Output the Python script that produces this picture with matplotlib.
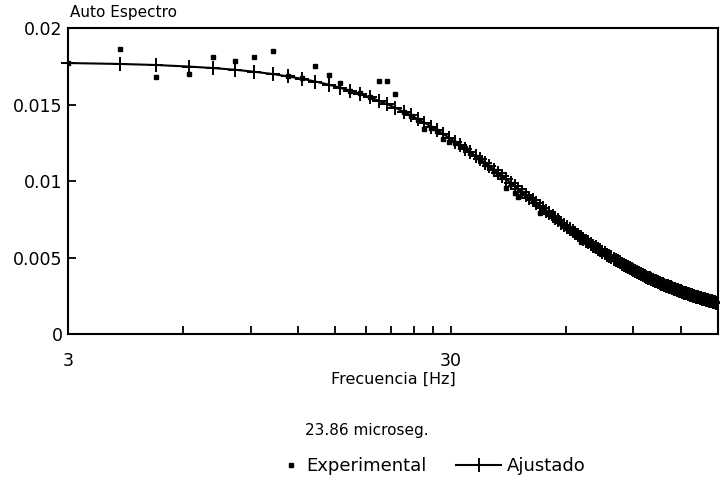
import matplotlib
matplotlib.use('Agg')
import matplotlib.pyplot as plt
from matplotlib.ticker import NullFormatter

plt.rcParams['font.family'] = ['DejaVu Sans']

# frecuencias (Hz)
freq = [3.0, 4.1, 5.1, 6.2, 7.2, 8.2, 9.2, 10.3, 11.3, 12.3, 13.3, 14.4, 15.4, 16.4, 17.4,
        18.5, 19.5, 20.5, 21.5, 22.6, 23.6, 24.6, 25.6, 26.7, 27.7, 28.7, 29.7, 30.8, 31.8,
        32.8, 33.8, 34.9, 35.9, 36.9, 37.9, 39.0, 40.0, 41.0, 42.0, 43.1, 44.1, 45.1, 46.1,
        47.2, 48.2, 49.2, 50.2, 51.3, 52.3, 53.3, 54.3, 55.4, 56.4, 57.4, 58.4, 59.5, 60.5,
        61.5, 62.5, 63.6, 64.6, 65.6, 66.6, 67.7, 68.7, 69.7, 70.7, 71.8, 72.8, 73.8, 74.8,
        75.9, 76.9, 77.9, 78.9, 80.0, 81.0, 82.0, 83.0, 84.1, 85.1, 86.1, 87.1, 88.2, 89.2,
        90.2, 91.2, 92.3, 93.3, 94.3, 95.3, 96.4, 97.4, 98.4, 99.4, 100.5, 101.5, 102.5,
        103.5, 104.6, 105.6, 106.6, 107.6, 108.7, 109.7, 110.7, 111.7, 112.8, 113.8, 114.8,
        115.8, 116.9, 117.9, 118.9, 119.9, 121.0, 122.0, 123.0, 124.0, 125.1, 126.1, 127.1,
        128.1, 129.2, 130.2, 131.2, 132.2, 133.3, 134.3, 135.3, 136.3, 137.4, 138.4, 139.4,
        140.4, 141.5, 142.5, 143.5, 144.5, 145.6, 146.6, 147.6, 148.6, 149.7]

# curva ajustada
ajustado = [0.01773, 0.01767, 0.01760, 0.01750, 0.01740, 0.01729, 0.01716, 0.01701, 0.01685,
            0.01669, 0.01652, 0.01632, 0.01612, 0.01592, 0.01571, 0.01548, 0.01526, 0.01503,
            0.01481, 0.01455, 0.01432, 0.01408, 0.01384, 0.01358, 0.01334, 0.01310, 0.01286,
            0.01260, 0.01237, 0.01213, 0.01190, 0.01165, 0.01143, 0.01120, 0.01098, 0.01075,
            0.01053, 0.01032, 0.01012, 0.00990, 0.00970, 0.00951, 0.00932, 0.00911, 0.00893,
            0.00875, 0.00858, 0.00839, 0.00823, 0.00807, 0.00791, 0.00774, 0.00759, 0.00744,
            0.00730, 0.00715, 0.00701,
            0.00688, 0.00674, 0.00661, 0.00649, 0.00637, 0.00625, 0.00613, 0.00602, 0.00591,
            0.00580, 0.00569, 0.00559, 0.00549, 0.00539, 0.00530, 0.00521, 0.00512, 0.00503,
            0.00494, 0.00486, 0.00478, 0.00470, 0.00462, 0.00454, 0.00447, 0.00440, 0.00433,
            0.00426, 0.00419, 0.00412, 0.00406, 0.00400, 0.00394, 0.00388, 0.00382, 0.00376,
            0.00371, 0.00365, 0.00360, 0.00355, 0.00351, 0.00346, 0.00341, 0.00336, 0.00332,
            0.00327, 0.00322, 0.00318, 0.00314, 0.00310, 0.00306, 0.00302, 0.00298, 0.00294,
            0.00291, 0.00287, 0.00284, 0.00280, 0.00277, 0.00273, 0.00270, 0.00267, 0.00264,
            0.00261, 0.00258, 0.00255, 0.00252, 0.00249, 0.00247, 0.00244, 0.00241, 0.00238,
            0.00236, 0.00233, 0.00231, 0.00229, 0.00227, 0.00224, 0.00222, 0.00220, 0.00218,
            0.00215, 0.00213, 0.00211, 0.00209, 0.00207, 0.00205]

# datos experimentales
experimental = [0.01775, 0.01865, 0.01680, 0.01701, 0.01810, 0.01788, 0.01810, 0.01852, 0.01690,
                0.01672, 0.01756, 0.01693, 0.01645, 0.01590, 0.01575, 0.01550, 0.01658, 0.01658,
                0.01573, 0.01450, 0.01430, 0.01400, 0.01342, 0.01350, 0.01330, 0.01275, 0.01259,
                0.01250, 0.01230, 0.01215, 0.01185, 0.01160, 0.01145, 0.01115, 0.01095, 0.01070,
                0.01050, 0.01025, 0.00958, 0.00985, 0.00922, 0.00895, 0.00925, 0.00905, 0.00890,
                0.00870, 0.00852, 0.00790, 0.00818, 0.00800, 0.00786, 0.00770, 0.00752, 0.00740,
                0.00725, 0.00710, 0.00698,
                0.00682, 0.00670, 0.00655, 0.00645, 0.00605, 0.00620, 0.00608, 0.00598, 0.00585,
                0.00575, 0.00551, 0.00555, 0.00545, 0.00535, 0.00525, 0.00516, 0.00508, 0.00499,
                0.00490, 0.00482, 0.00474, 0.00466, 0.00458, 0.00451, 0.00443, 0.00437, 0.00430,
                0.00423, 0.00415, 0.00409, 0.00402, 0.00397, 0.00390, 0.00385, 0.00378, 0.00373,
                0.00368, 0.00362, 0.00357, 0.00352, 0.00347, 0.00343, 0.00338, 0.00333, 0.00329,
                0.00324, 0.00320, 0.00315, 0.00311, 0.00307, 0.00303, 0.00299, 0.00295, 0.00292,
                0.00288, 0.00284, 0.00281, 0.00278, 0.00274, 0.00271, 0.00268, 0.00264, 0.00261,
                0.00258, 0.00255, 0.00252, 0.00250, 0.00247, 0.00244, 0.00241, 0.00239, 0.00236,
                0.00234, 0.00231, 0.00229, 0.00226, 0.00225, 0.00222, 0.00220, 0.00218, 0.00215,
                0.00213, 0.00211, 0.00209, 0.00207, 0.00205, 0.00203]

xticks_major = [3, 30]
xticks_minor = [6, 9, 12, 15, 18, 21, 24, 27, 60, 90, 120]
yticks = [0, 0.005, 0.01, 0.015, 0.02]
ytick_labels = ['0', '0.005', '0.01', '0.015', '0.02']

fig = plt.figure(figsize=(7.2, 4.79), dpi=100)
ax = fig.add_axes([68 / 720, 1 - 334.3 / 479, 650 / 720, 306 / 479])

exp_line, = ax.plot(freq, experimental, linestyle='none', marker='s', ms=2.4,
                    color='black', label='Experimental')
fit_line, = ax.plot(freq, ajustado, color='black', lw=1.5, marker='+', ms=9.5, mew=1.4,
                    label='Ajustado', clip_on=False)

ax.set_xscale('log')
ax.set_xlim(3, 150)
ax.set_ylim(0, 0.02)
ax.set_xticks(xticks_major)
ax.set_xticklabels(['3', '30'])
ax.set_xticks(xticks_minor, minor=True)
ax.xaxis.set_minor_formatter(NullFormatter())
ax.set_yticks(yticks)
ax.set_yticklabels(ytick_labels)

ax.tick_params(axis='x', which='both', direction='in', length=6, width=1.3,
               labelsize=12.5, pad=13, top=False)
ax.tick_params(axis='y', which='both', direction='in', length=6, width=1.3,
               labelsize=12.5, pad=4, right=False)
for s in ax.spines.values():
    s.set_linewidth(1.5)

ax.set_xlabel('Frecuencia [Hz]', fontsize=11.5, labelpad=1)
fig.text(70 / 720, 1 - 13 / 479, 'Auto Espectro', fontsize=11, ha='left', va='center')
fig.text(367 / 720, 1 - 431 / 479, '23.86 microseg.', fontsize=11, ha='center', va='center')

# leyenda en dos partes para imitar el espaciado original
fig.legend(handles=[exp_line], loc='center left', bbox_to_anchor=(268 / 720, 1 - 466 / 479),
           frameon=False, fontsize=13, handlelength=0.7, handletextpad=0.5)
fig.legend(handles=[fit_line], loc='center left', bbox_to_anchor=(440 / 720, 1 - 466 / 479),
           frameon=False, fontsize=13, handlelength=2.5, handletextpad=0.3)

fig.savefig('out.png', dpi=100)
